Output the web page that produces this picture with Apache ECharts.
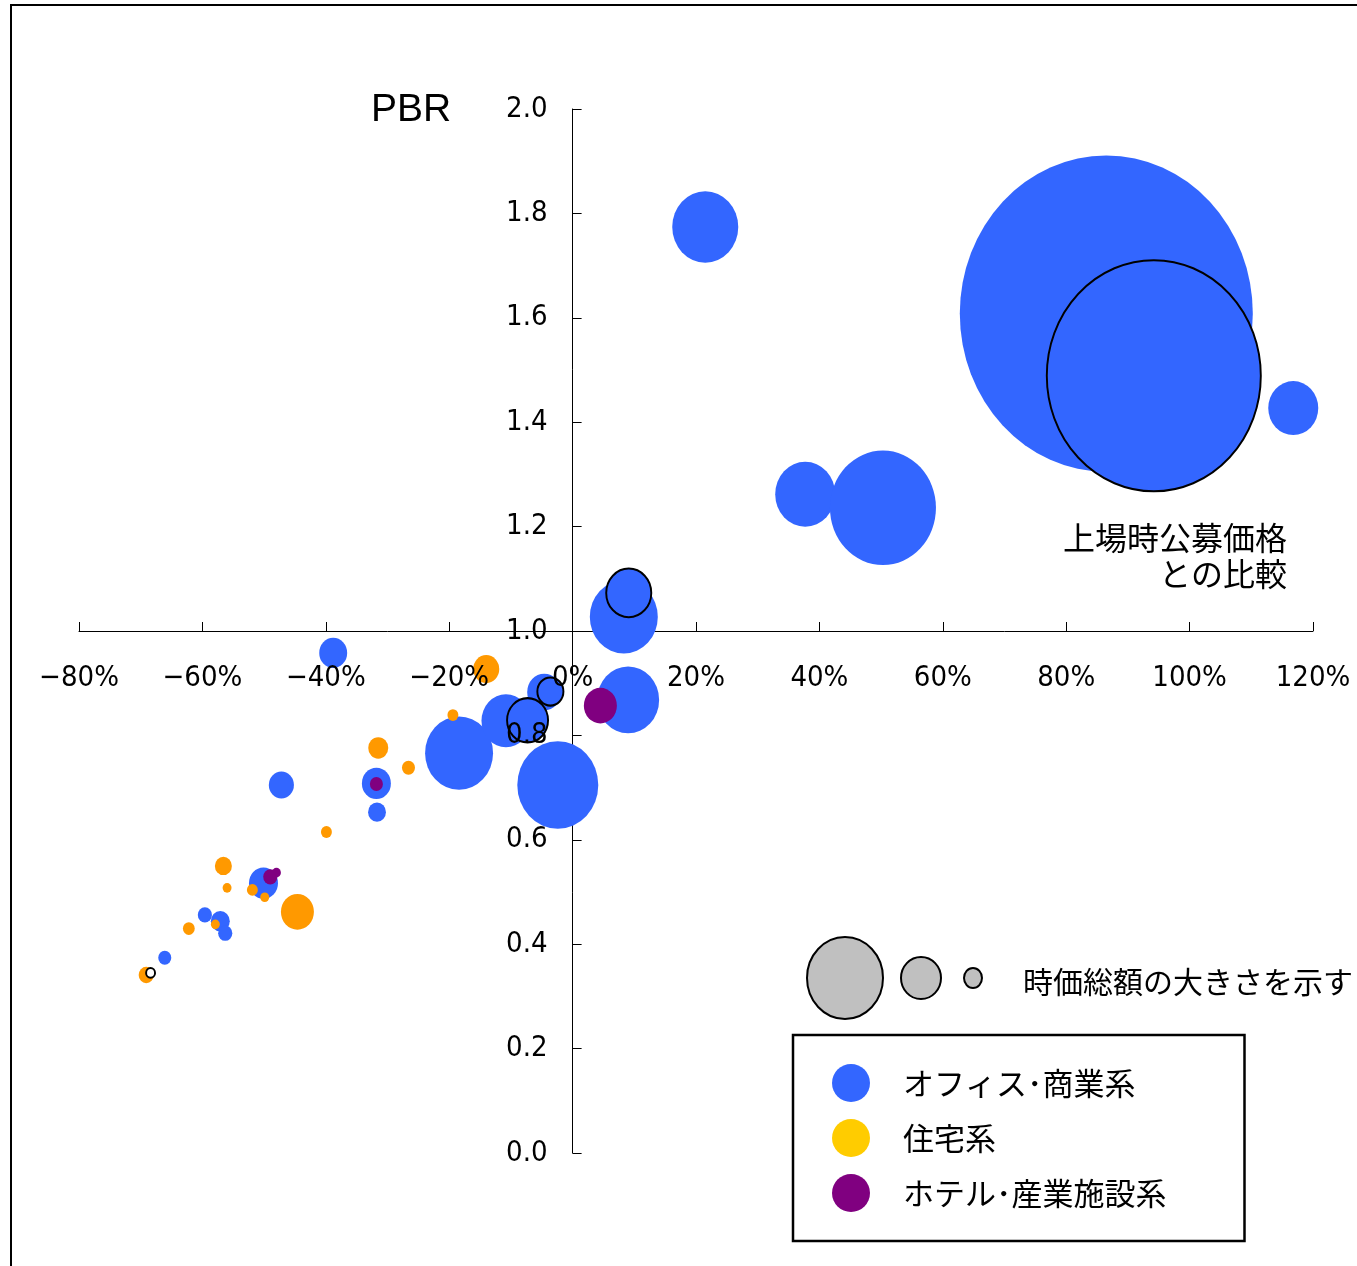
<!DOCTYPE html>
<html><head><meta charset="utf-8">
<script src="https://cdn.jsdelivr.net/npm/echarts@6/dist/echarts.min.js"></script>
<style>html,body{margin:0;padding:0;background:#fff}#c{width:1357px;height:1266px}</style>
</head><body><div id="c"></div>
<script>
// x: 上場時公募価格との比較 (%), y: PBR, cap: 時価総額 (relative)
const officeX = [86.5, 21.5, 116.8, 37.7, 50.3, 8.3, 9.0, -2.4, -18.4, -10.8, -4.6, -38.8, -47.2, -31.8, -31.7, -50.1, -59.6, -57.1, -56.3, -66.1];
const officeY = [1.608, 1.774, 1.427, 1.262, 1.236, 1.027, 0.868, 0.705, 0.766, 0.828, 0.883, 0.958, 0.705, 0.708, 0.653, 0.517, 0.456, 0.444, 0.421, 0.374];
const officeCap = [8585, 436, 250, 360, 1124, 462, 384, 656, 462, 240, 116, 78, 63, 84, 32, 84, 20, 36, 20, 17];

const resiX = [-14.0, -19.4, -31.5, -26.6, -39.9, -56.6, -56.0, -51.9, -49.9, -44.6, -62.2, -57.9, -69.1];
const resiY = [0.927, 0.839, 0.776, 0.738, 0.615, 0.550, 0.508, 0.504, 0.490, 0.462, 0.430, 0.438, 0.341];
const resiCap = [68, 12, 40, 17, 12, 29, 8, 12, 8, 109, 14, 8, 23];

const hotelX = [4.5, -31.8, -49.0, -48.0];
const hotelY = [0.857, 0.707, 0.529, 0.537];
const hotelCap = [109, 17, 20, 8];

// outlined bubbles
const ipoX = [94.2, 9.1, -3.6, -7.3, -68.4];
const ipoY = [1.489, 1.073, 0.884, 0.829, 0.345];
const ipoCap = [4580, 203, 68, 168, 8];
const ipoFilled = [true, true, true, true, false];

const seriesNames = ['オフィス･商業系', '住宅系', 'ホテル･産業施設系'];
const xMin = -80, xMax = 120, xStep = 20;
const yMin = 0, yMax = 2.0, yStep = 0.2;
const yCross = 1.0;

const BLUE = '#3366FF', ORANGE = '#FF9900', PURPLE = '#800080', LEG_YELLOW = '#FFCC00';
const NUMFONT = '"Liberation Sans Narrow","DejaVu Sans Condensed","Arial Narrow",sans-serif';
const JPFONT = '"Noto Sans CJK JP","Noto Sans CJK SC",sans-serif';

const G = {left: 79, right: 44, top: 109, bottom: 113};
const W = 1357, H = 1266;
const gw = W - G.left - G.right, gh = H - G.top - G.bottom;
const xOff = -gh * (yCross - yMin) / (yMax - yMin);
const yOff = -gw * (0 - xMin) / (xMax - xMin);

function zip(xs, ys, cs) { return xs.map((x, i) => [x, ys[i], cs[i]]); }
function sz(v) { const d = Math.sqrt(v[2] * 10); return [d, d * 1.08]; }
function xfmt(v) { return v < 0 ? '\u2212' + Math.abs(v) + '%' : v + '%'; }

const chart = echarts.init(document.getElementById('c'), null, {renderer: 'canvas'});
const baseX = {type: 'value', min: xMin, max: xMax, interval: xStep, position: 'bottom', offset: xOff, splitLine: {show: false}};
const baseY = {type: 'value', min: yMin, max: yMax, interval: yStep, position: 'left', offset: yOff, splitLine: {show: false}};

chart.setOption({
  animation: false,
  backgroundColor: '#fff',
  grid: {left: G.left, right: G.right, top: G.top, bottom: G.bottom, containLabel: false},
  xAxis: [
    Object.assign({}, baseX, {z: 0, axisLine: {onZero: false, lineStyle: {color: '#000', width: 1}}, axisTick: {inside: true, length: 9, lineStyle: {color: '#000'}}, axisLabel: {show: false}}),
    Object.assign({}, baseX, {z: 10, axisLine: {onZero: false, show: false}, axisTick: {show: false}, axisLabel: {show: true, margin: 33, color: '#000', fontSize: 29, fontFamily: NUMFONT, formatter: xfmt}})
  ],
  yAxis: [
    Object.assign({}, baseY, {z: 0, axisLine: {onZero: false, show: true, lineStyle: {color: '#000', width: 1}}, axisTick: {show: true, inside: true, length: 9, lineStyle: {color: '#000'}}, axisLabel: {show: false}}),
    Object.assign({}, baseY, {z: 10, axisLine: {onZero: false, show: false}, axisTick: {show: false}, axisLabel: {show: true, margin: 25, color: '#000', fontSize: 29, fontFamily: NUMFONT, formatter: v => v.toFixed(1)}})
  ],
  legend: {
    orient: 'vertical', left: 793, top: 1035,
    data: [
      {name: seriesNames[0], icon: 'circle', itemStyle: {color: BLUE}},
      {name: seriesNames[1], icon: 'circle', itemStyle: {color: LEG_YELLOW}},
      {name: seriesNames[2], icon: 'circle', itemStyle: {color: PURPLE}}
    ],
    itemWidth: 38, itemHeight: 42, itemGap: 17,
    padding: [29, 78, 29, 39],
    borderColor: '#000', borderWidth: 2.5,
    textStyle: {fontSize: 31, color: '#000', fontFamily: JPFONT, padding: [0, 0, 0, 28]},
    selectedMode: false
  },
  series: [
    {name: seriesNames[0], type: 'scatter', data: zip(officeX, officeY, officeCap), symbolSize: sz, itemStyle: {color: BLUE, opacity: 1}, z: 2},
    {name: seriesNames[1], type: 'scatter', data: zip(resiX, resiY, resiCap), symbolSize: sz, itemStyle: {color: ORANGE, opacity: 1}, z: 3},
    {name: seriesNames[2], type: 'scatter', data: zip(hotelX, hotelY, hotelCap), symbolSize: sz, itemStyle: {color: PURPLE, opacity: 1}, z: 4},
    {name: 'ipo', type: 'scatter', z: 5,
     data: zip(ipoX, ipoY, ipoCap).map((d, i) => ({value: d, itemStyle: {color: ipoFilled[i] ? BLUE : '#FFFFFF'}})),
     symbolSize: sz, itemStyle: {borderColor: '#000', borderWidth: 2, opacity: 1}}
  ],
  graphic: [
    {type: 'rect', shape: {x: 11, y: 5, width: 1400, height: 1300}, style: {fill: 'none', stroke: '#000', lineWidth: 2}, z: 100},
    {type: 'text', style: {x: 371, y: 110, text: 'PBR', font: '39px "Liberation Sans", Arial, sans-serif', fill: '#000', textVerticalAlign: 'middle'}, z: 100},
    {type: 'text', style: {x: 1287, y: 538, text: '上場時公募価格', font: '32px ' + JPFONT, fill: '#000', textAlign: 'right', textVerticalAlign: 'middle'}, z: 100},
    {type: 'text', style: {x: 1287, y: 574, text: 'との比較', font: '32px ' + JPFONT, fill: '#000', textAlign: 'right', textVerticalAlign: 'middle'}, z: 100},
    {type: 'ellipse', shape: {cx: 845, cy: 978, rx: 38, ry: 41}, style: {fill: '#C0C0C0', stroke: '#000', lineWidth: 2}, z: 100},
    {type: 'ellipse', shape: {cx: 921, cy: 978, rx: 20, ry: 21}, style: {fill: '#C0C0C0', stroke: '#000', lineWidth: 2}, z: 100},
    {type: 'ellipse', shape: {cx: 973, cy: 978, rx: 9, ry: 10}, style: {fill: '#C0C0C0', stroke: '#000', lineWidth: 2}, z: 100},
    {type: 'text', style: {x: 1023, y: 982, text: '時価総額の大きさを示す', font: '30px ' + JPFONT, fill: '#000', textVerticalAlign: 'middle'}, z: 100}
  ]
});
</script>
</body></html>
